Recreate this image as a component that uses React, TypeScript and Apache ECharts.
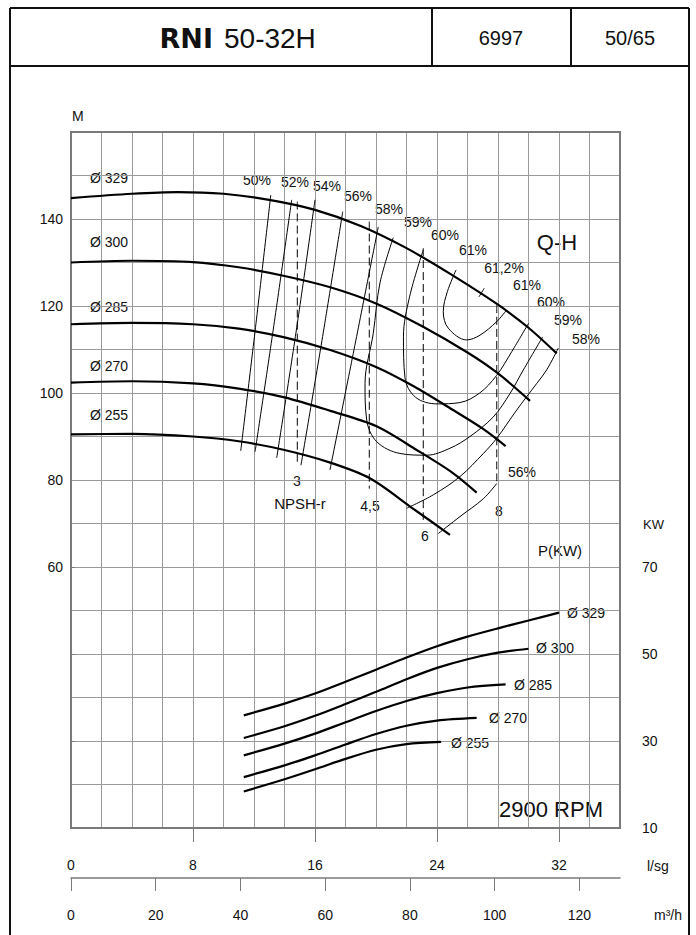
import { useEffect, useRef } from "react";
import * as echarts from "echarts";

// ---------- DATA (flow Q in l/s, head H in m, power in kW) ----------
const diameters = ["Ø 329", "Ø 300", "Ø 285", "Ø 270", "Ø 255"];

const qh329 = [[0,144.8],[4,145.8],[7,146.2],[10,145.8],[13,144.4],[16,142.1],[19,138.4],[22,133.3],[25,127.1],[28,120.3],[30,115.0],[31.85,109.1]];
const qh300 = [[0,130.0],[4,130.4],[8,130.1],[11,128.9],[14,126.9],[17,124.3],[20,120.6],[23,115.4],[26,109.3],[28,104.5],[30.1,98.2]];
const qh285 = [[0,115.8],[4,116.1],[8,115.8],[11,114.8],[14,112.8],[17,109.9],[20,106.0],[22.5,101.5],[25,96.2],[27,91.8],[28.5,87.8]];
const qh270 = [[0,102.4],[4,102.7],[8,102.2],[11,101.0],[14,99.0],[17,95.9],[20,92.4],[22.67,86.9],[25,81.7],[26.6,77.1]];
const qh255 = [[0,90.5],[4,90.6],[8,90.0],[11,88.9],[14,86.9],[17,84.0],[19.6,80.4],[22.4,73.5],[24.85,67.4]];

const eff50 = [[13.1,145.5],[12.13,116],[11.13,86.7]];
const eff52 = [[14.47,144.4],[13.3,115.5],[12.07,86.5]];
const eff54 = [[16.0,144.4],[14.8,115],[13.49,85.1]];
const eff56 = [[17.82,141.7],[16.5,113],[15.08,83.4]];
const eff58left = [[20.15,138.2],[18.56,110],[16.98,82.3]];
const eff58right = [[22.01,73.5],[23.76,76.6],[25.51,80.8],[27.04,86.1],[27.92,89.6],[29.23,96.1],[30.54,102.2],[31.19,105.3],[31.95,110.3]];
const eff56right = [[24.09,67.7],[25.51,71.6],[27.04,75.7],[27.92,79.2]];
const eff59 = [[21.13,135.7],[20.26,125.3],[19.82,113.7],[19.28,102.2],[19.39,93.8],[20.05,88.8],[21.57,86.1],[23.32,85.7],[24.85,87.3],[26.16,90.0],[27.69,94.5],[28.79,99.9],[29.66,105.3],[30.93,112.9]];
const eff60 = [[23.1,132.9],[22.2,122.1],[21.8,112.9],[21.9,103.5],[22.6,99.0],[24.0,97.5],[25.5,97.8],[26.8,100.0],[27.9,104.0],[28.9,109.5],[30.0,116.0]];
const eff61 = [[25.25,128.3],[24.68,123.3],[24.41,118.7],[24.74,114.9],[25.95,112.2],[26.82,113.3],[27.91,116.4],[28.57,119.1]];
const eff612 = [[26.75,122.1],[27.1,124.1]];

const npsh3 = [[14.84,144.0],[14.84,83.4]];
const npsh45 = [[19.56,139.4],[19.56,78.0]];
const npsh6 = [[23.1,133.3],[23.1,70.8]];
const npsh8 = [[27.92,120.2],[27.92,79.2]];

const p329 = [[11.33,35.9],[14,38.6],[16,40.9],[18,43.6],[20,46.4],[22,49.2],[24,51.8],[26,54.0],[28,55.9],[30,57.7],[32,59.5]];
const p300 = [[11.33,30.7],[14,33.4],[16,35.8],[18,38.5],[20,41.3],[22,44.2],[24,46.8],[26,48.8],[28,50.3],[30,51.2]];
const p285 = [[11.33,26.7],[14,29.4],[16,31.7],[18,34.3],[20,36.9],[22,39.2],[24,41.0],[26,42.3],[28.5,43.0]];
const p270 = [[11.33,21.7],[14,24.4],[16,26.7],[18,29.2],[20,31.6],[22,33.5],[24,34.7],[26.6,35.3]];
const p255 = [[11.33,18.4],[14,21.2],[16,23.5],[18,25.9],[20,28.0],[22,29.3],[24.27,29.8]];

const headTicks = [60, 80, 100, 120, 140];
const flowLsTicks = [0, 8, 16, 24, 32];
const flowLsMarks = [8, 16, 24, 32];
const flowM3hTicks = [0, 20, 40, 60, 80, 100, 120];
const powerTicks = [10, 30, 50, 70];

const effTexts = ["50%", "52%", "54%", "56%", "58%", "59%", "60%", "61%", "61,2%", "61%", "60%", "59%", "58%", "56%"];
const npshTexts = ["3", "4,5", "6", "8"];

// ---------- LAYOUT ----------
const FONT = "Liberation Sans, Arial, sans-serif";
const PLOT = { left: 71, top: 132, width: 549, height: 696 };
const effLabelPos = [[257,180],[295,182],[327,186],[358,196],[389,209],[418,222],[445,235],[473,250],[504,268],[527,285],[551,302],[568,320],[586,339],[522,472]];
const npshLabelPos = [[297,481],[370,506],[425,536],[499,511]];
const diaLabelPos = [[90,178],[90,242],[90,307],[90,366],[90,415]];
const powLabelPos = [[567,613],[536,648],[514,685],[489,718],[451,743]];

function txt(text: string, x: number, y: number, size: number, align = "center", extra: any = {}) {
  return {
    type: "text",
    x,
    y,
    silent: true,
    style: {
      text,
      font: `${extra.weight || "normal"} ${size}px ${extra.family || FONT}`,
      fill: "#111",
      align,
      verticalAlign: "middle",
      textAlign: align,
      textVerticalAlign: "middle",
    },
  };
}
function ln(x1: number, y1: number, x2: number, y2: number, w = 2, color = "#111") {
  return { type: "line", silent: true, shape: { x1, y1, x2, y2 }, style: { stroke: color, lineWidth: w } };
}

function mkLine(data: number[][], width: number, extra: any = {}) {
  return {
    type: "line",
    data,
    symbol: "none",
    showSymbol: false,
    smooth: extra.smooth ?? 0.35,
    silent: true,
    lineStyle: { color: "#000", width, ...(extra.lineStyle || {}) },
    xAxisIndex: extra.xAxisIndex ?? 0,
    yAxisIndex: extra.yAxisIndex ?? 0,
    z: extra.z ?? 3,
  };
}

export default function App() {
  const ref = useRef<HTMLDivElement>(null);
  useEffect(() => {
    const chart = echarts.init(ref.current!, null, { renderer: "svg" });
    const axisColor = "#7a7a7a";
    const gridColor = "#9a9a9a";
    const labelStyle = { color: "#111", fontSize: 14, fontFamily: FONT };

    const graphics: any[] = [
      // frame + header
      ln(10, 935, 10, 8), ln(10, 8, 689, 8), ln(689, 8, 689, 935), ln(10, 66, 689, 66),
      ln(432, 8, 432, 66), ln(571, 8, 571, 66),
      txt("RNI", 213, 38, 27, "right", { weight: "bold", family: "DejaVu Sans" }),
      txt("50-32H", 224, 38, 28, "left"),
      txt("6997", 501, 38, 20),
      txt("50/65", 630, 38, 20),
      txt("M", 72, 116, 14, "left"),
      txt("Q-H", 557, 242, 22),
      txt("NPSH-r", 300, 503, 15),
      txt("P(KW)", 560, 550, 15),
      txt("KW", 643, 524, 13, "left"),
      txt("2900 RPM", 603, 809, 22, "right"),
      txt("l/sg", 647, 866, 14, "left"),
      txt("m³/h", 654, 915, 14, "left"),
    ];
    effTexts.forEach((t, i) => graphics.push(txt(t, effLabelPos[i][0], effLabelPos[i][1], 14)));
    npshTexts.forEach((t, i) => graphics.push(txt(t, npshLabelPos[i][0], npshLabelPos[i][1], 14)));
    diameters.forEach((t, i) => {
      graphics.push(txt(t, diaLabelPos[i][0], diaLabelPos[i][1], 14, "left"));
      graphics.push(txt(t, powLabelPos[i][0], powLabelPos[i][1], 14, "left"));
    });

    const dash = { type: [8, 4] as any };
    const off = { axisLine: { show: false }, axisTick: { show: false }, axisLabel: { show: false } };
    const curve = { smooth: 0.3 };
    const pw = { ...curve, xAxisIndex: 2, yAxisIndex: 1 };
    const option: any = {
      animation: false,
      backgroundColor: "#fff",
      grid: [
        { ...PLOT, show: true, borderColor: axisColor, borderWidth: 2, backgroundColor: "transparent", z: 1 },
        { left: 71, top: 567, width: 549, height: 261, show: false },
        { left: 71, top: 877, width: 549, height: 1, show: false },
        { ...PLOT, show: false },
      ],
      xAxis: [
        {
          gridIndex: 0, type: "value", min: 0, max: 36, position: "bottom",
          axisLine: { show: false },
          splitLine: { show: false },
          axisTick: { show: true, customValues: flowLsMarks, length: 14, lineStyle: { color: axisColor } },
          axisLabel: { ...labelStyle, customValues: flowLsTicks, margin: 30 },
        },
        {
          gridIndex: 2, type: "value", min: 0, max: 129.6, position: "bottom",
          axisLine: { show: true, lineStyle: { color: axisColor, width: 1.5 } },
          splitLine: { show: false },
          axisTick: { show: true, customValues: flowM3hTicks, length: 13, lineStyle: { color: axisColor } },
          axisLabel: { ...labelStyle, customValues: flowM3hTicks, margin: 30 },
        },
        { gridIndex: 1, type: "value", min: 0, max: 36, show: false },
        {
          gridIndex: 3, type: "value", min: 0, max: 36, interval: 2, ...off,
          splitLine: { show: true, lineStyle: { color: gridColor, width: 1 } },
        },
      ],
      yAxis: [
        {
          gridIndex: 0, type: "value", min: 0, max: 160, position: "left",
          axisLine: { show: false },
          axisTick: { show: false },
          splitLine: { show: false },
          axisLabel: { ...labelStyle, customValues: headTicks, margin: 8 },
        },
        {
          gridIndex: 1, type: "value", min: 10, max: 70, interval: 20, position: "right", offset: 10,
          axisLine: { show: true, lineStyle: { color: axisColor, width: 1 } },
          axisTick: { show: true, length: 4, lineStyle: { color: axisColor } },
          splitLine: { show: false },
          axisLabel: { ...labelStyle, customValues: powerTicks, margin: 12 },
        },
        { gridIndex: 2, type: "value", min: 0, max: 1, show: false },
        {
          gridIndex: 3, type: "value", min: 0, max: 160, interval: 10, ...off,
          splitLine: { show: true, lineStyle: { color: gridColor, width: 1 } },
        },
      ],
      graphic: graphics,
      series: [
        mkLine(qh329, 2.2, curve), mkLine(qh300, 2.2, curve), mkLine(qh285, 2.2, curve), mkLine(qh270, 2.2, curve), mkLine(qh255, 2.2, curve),
        mkLine(eff50, 1), mkLine(eff52, 1), mkLine(eff54, 1), mkLine(eff56, 1),
        mkLine(eff58left, 1), mkLine(eff58right, 1), mkLine(eff56right, 1),
        mkLine(eff59, 1), mkLine(eff60, 1), mkLine(eff61, 1), mkLine(eff612, 1),
        mkLine(npsh3, 1, { lineStyle: dash }), mkLine(npsh45, 1, { lineStyle: dash }),
        mkLine(npsh6, 1, { lineStyle: dash }), mkLine(npsh8, 1, { lineStyle: dash }),
        mkLine(p329, 2.2, pw), mkLine(p300, 2.2, pw), mkLine(p285, 2.2, pw), mkLine(p270, 2.2, pw), mkLine(p255, 2.2, pw),
      ],
    };
    chart.setOption(option);
    return () => chart.dispose();
  }, []);
  return (
    <div
      ref={ref}
      style={{ position: "absolute", left: 0, top: 0, width: 696, height: 935, background: "#fff" }}
    />
  );
}
